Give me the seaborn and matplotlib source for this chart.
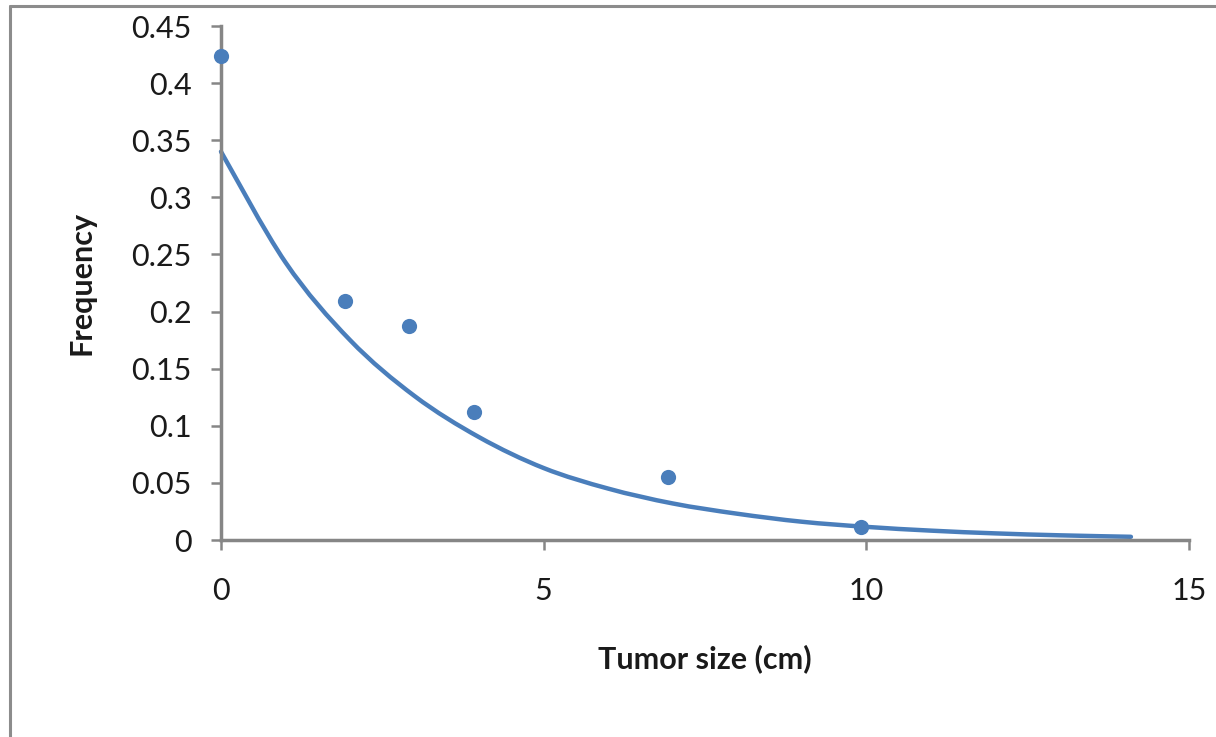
import numpy as np
import pandas as pd
import matplotlib
matplotlib.use("Agg")
import matplotlib.pyplot as plt
import seaborn as sns
from matplotlib.path import Path
from matplotlib.patches import PathPatch
from matplotlib.lines import Line2D

# Observed data (scatter)
obs_size = [0.0, 1.92, 2.92, 3.92, 6.92, 9.92]
obs_freq = [0.424, 0.209, 0.187, 0.112, 0.055, 0.011]

# Fitted curve values (smoothed line in the reference)
fit_size = [0, 1, 2, 3, 4, 5, 6, 7, 8, 9, 10, 11, 12, 13, 14.1]
fit_freq = [0.340, 0.243, 0.175, 0.126, 0.090, 0.063, 0.045, 0.032,
            0.023, 0.016, 0.0115, 0.0082, 0.0058, 0.0041, 0.0028]

x_ticks = [0, 5, 10, 15]
y_ticks = [0, 0.05, 0.1, 0.15, 0.2, 0.25, 0.3, 0.35, 0.4, 0.45]
y_tick_labels = ["0", "0.05", "0.1", "0.15", "0.2", "0.25", "0.3", "0.35", "0.4", "0.45"]

sns.set_theme(style="white")
plt.rcParams['font.family'] = ['Lato', 'DejaVu Sans']

BLUE = "#4A7EBB"
GRAY = "#868686"

fig = plt.figure(figsize=(12.16, 7.37), dpi=100)
ax = fig.add_axes([221/1216, 1-540/737, (1189-221)/1216, (540-26)/737])

df_obs = pd.DataFrame({"size": obs_size, "freq": obs_freq})
sns.scatterplot(data=df_obs, x="size", y="freq", ax=ax, color=BLUE,
                s=120, edgecolor=BLUE, linewidth=0, zorder=3, clip_on=False)

# Smoothed line (Catmull-Rom style Bezier through the fitted values)
P = np.column_stack([fit_size, fit_freq]).astype(float)
n = len(P)
verts = [P[0]]
codes = [Path.MOVETO]
for i in range(n - 1):
    p0 = P[i - 1] if i > 0 else P[i]
    p1 = P[i]
    p2 = P[i + 1]
    p3 = P[i + 2] if i + 2 < n else P[i + 1]
    c1 = p1 + (p2 - p0) / 6.0
    c2 = p2 - (p3 - p1) / 6.0
    verts += [c1, c2, p2]
    codes += [Path.CURVE4] * 3
patch = PathPatch(Path(verts, codes), facecolor="none", edgecolor=BLUE,
                  linewidth=3.2, capstyle="round", zorder=2, clip_on=False)
ax.add_patch(patch)

ax.set_xlim(0, 15)
ax.set_ylim(0, 0.45)
ax.set_xticks(x_ticks)
ax.set_xticklabels([str(t) for t in x_ticks])
ax.set_yticks(y_ticks)
ax.set_yticklabels(y_tick_labels)

for side in ["top", "right"]:
    ax.spines[side].set_visible(False)
for side in ["left", "bottom"]:
    ax.spines[side].set_color(GRAY)
    ax.spines[side].set_linewidth(2.5)

ax.tick_params(axis="both", which="major", direction="out", length=7,
               width=1.8, color=GRAY, labelsize=22, labelcolor="#1a1a1a",
               left=True, bottom=True)
ax.tick_params(axis="x", pad=20)
ax.tick_params(axis="y", pad=14)

ax.set_xlabel("Tumor size (cm)", fontsize=22, fontweight="bold", labelpad=28,
              color="#1a1a1a")
ax.set_ylabel("Frequency", fontsize=22, fontweight="bold", labelpad=26,
              color="#1a1a1a")

# Chart-area border (only left and top are visible in the cropped reference)
fig.add_artist(Line2D([10/1216, 10/1216], [0, 1-6/737], transform=fig.transFigure,
                      color="#8c8c8c", linewidth=2.2))
fig.add_artist(Line2D([10/1216, 1], [1-6/737, 1-6/737], transform=fig.transFigure,
                      color="#8c8c8c", linewidth=2.2))

fig.savefig("out.png", dpi=100)
